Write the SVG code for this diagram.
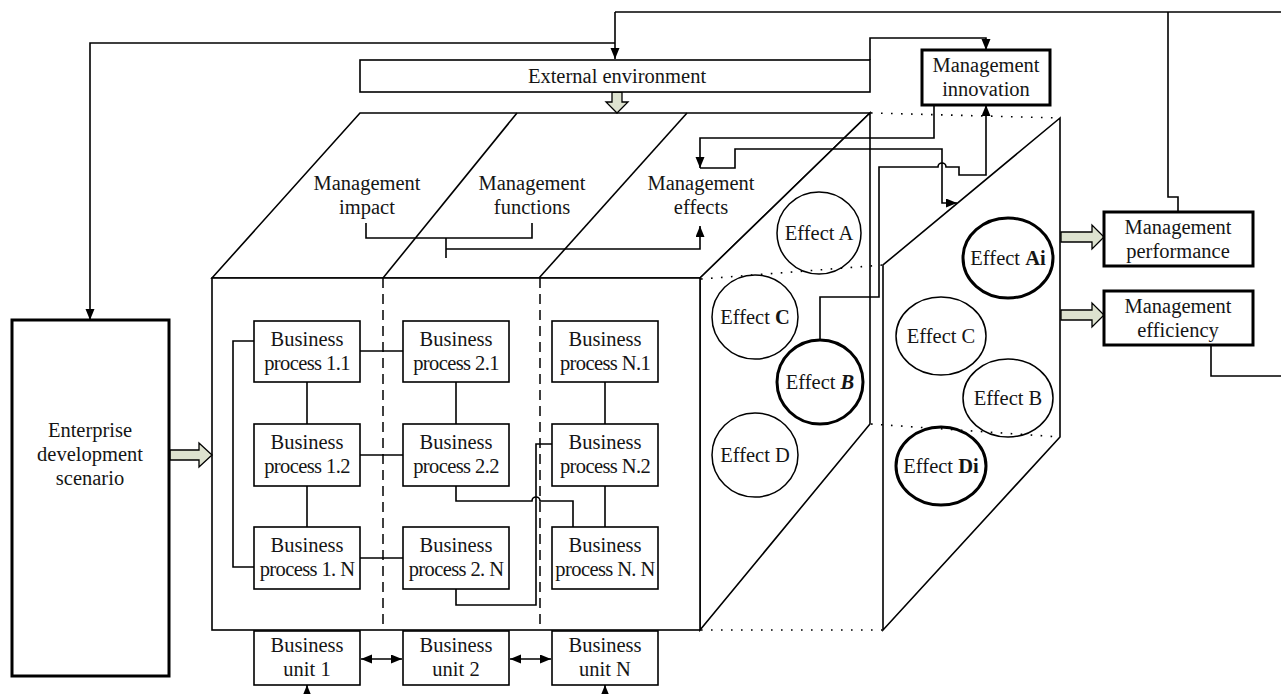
<svg xmlns="http://www.w3.org/2000/svg" width="1281" height="694" viewBox="0 0 1281 694" font-family="'Liberation Serif', Tinos, 'DejaVu Serif', serif">
  <style>
    .ln { fill: none; stroke: #000; stroke-width: 1.6; }
    .face { fill: #fff; stroke: #000; stroke-width: 1.6; stroke-linejoin: miter; }
    .box { fill: #fff; stroke: #000; stroke-width: 1.6; }
    .bold { fill: #fff; stroke: #000; stroke-width: 3; }
    .ring { fill: none; stroke: #000; stroke-width: 1.5; }
    .ring-b { fill: none; stroke: #000; stroke-width: 3; }
    .dash { fill: none; stroke: #000; stroke-width: 1.5; stroke-dasharray: 10 6; }
    .dot { fill: none; stroke: #000; stroke-width: 1.6; stroke-dasharray: 1.6 8.4; }
    .grn { fill: #dde2cf; stroke: #000; stroke-width: 1.3; }
    text { font-family: 'Liberation Serif', Tinos, 'DejaVu Serif', serif; font-size: 20.5px; fill: #151515; text-anchor: middle; }
    .tight { letter-spacing: -0.6px; }
    .b { font-weight: bold; }
    .bi { font-weight: bold; font-style: italic; }
  </style>
  <defs>
    <marker id="arr" markerUnits="userSpaceOnUse" markerWidth="12" markerHeight="10" refX="11" refY="4.5" orient="auto-start-reverse">
      <path d="M0,0 L11,4.5 L0,9 Z" fill="#000"/>
    </marker>
  </defs>

  <!-- cube: top face, side face, front face -->
  <g id="cube">
    <polygon class="face" points="212,278 360,113 870,113 700,278"/>
    <line class="ln" x1="383" y1="278" x2="517" y2="113"/>
    <line class="ln" x1="539" y1="278" x2="687" y2="113"/>
    <polygon class="face" points="700,278 870,113 870,424 700,630"/>
    <rect class="face" x="212" y="278" width="488" height="352"/>
    <line class="dash" x1="383" y1="278" x2="383" y2="630"/>
    <line class="dash" x1="540" y1="278" x2="540" y2="630"/>
  </g>

  <!-- effect slab to the right of the cube -->
  <g id="slab">
    <polygon class="face" points="1060,118 883,265 883,630 1060,437"/>
    <line class="dot" x1="871" y1="113" x2="1060" y2="118"/>
    <line class="dot" x1="701" y1="279" x2="883" y2="265"/>
    <line class="dot" x1="871" y1="424" x2="1060" y2="437"/>
    <line class="dot" x1="701" y1="630" x2="883" y2="630"/>
  </g>

  <!-- block arrows -->
  <g id="block-arrows">
    <polygon class="grn" points="612,92 622,92 622,102 628,102 617,113 606,102 612,102"/>
    <polygon class="grn" points="170,450 199,450 199,443 212,455 199,467 199,460 170,460"/>
    <polygon class="grn" points="1061,232 1092,232 1092,225 1104,237 1092,249 1092,242 1061,242"/>
    <polygon class="grn" points="1061,310 1092,310 1092,303 1104,315 1092,327 1092,320 1061,320"/>
  </g>

  <!-- connectors -->
  <g id="connectors">
    <!-- outer feedback loop -->
    <polyline class="ln" points="615,12 1281,12"/>
    <polyline class="ln" points="615,12 615,59" marker-end="url(#arr)"/>
    <polyline class="ln" points="615,43 90,43 90,320" marker-end="url(#arr)"/>
    <polyline class="ln" points="1168,12 1168,197 1178,197 1178,212"/>
    <polyline class="ln" points="1211,345 1211,376 1281,376"/>
    <!-- external environment to innovation -->
    <polyline class="ln" points="870,60 870,38 986,38 986,50" marker-end="url(#arr)"/>
    <!-- innovation to management effects -->
    <polyline class="ln" points="934,105 934,138 700,138 700,168" marker-end="url(#arr)"/>
    <polyline class="ln" points="700,168 735,168 735,149 942,149 942,203 957,203" marker-end="url(#arr)"/>
    <!-- effect B up to innovation -->
    <path class="ln" d="M820,340 V297 H879 V167 H938 a4,4 0 0 1 8,0 H959 V175 H986 V105" marker-end="url(#arr)"/>
    <!-- impact + functions to effects -->
    <polyline class="ln" points="366,223 366,238 532,238 532,223"/>
    <line class="ln" x1="446" y1="238" x2="446" y2="258"/>
    <polyline class="ln" points="446,249 700,249 700,226" marker-end="url(#arr)"/>
    <!-- business process links -->
    <polyline class="ln" points="254,341 233,341 233,567 254,567"/>
    <line class="ln" x1="307" y1="382" x2="307" y2="424"/>
    <line class="ln" x1="307" y1="486" x2="307" y2="527"/>
    <line class="ln" x1="456" y1="382" x2="456" y2="424"/>
    <line class="ln" x1="605" y1="382" x2="605" y2="424"/>
    <line class="ln" x1="605" y1="486" x2="605" y2="527"/>
    <line class="ln" x1="360" y1="351" x2="403" y2="351"/>
    <line class="ln" x1="360" y1="455" x2="403" y2="455"/>
    <line class="ln" x1="360" y1="558" x2="403" y2="558"/>
    <polyline class="ln" points="456,589 456,605 536,605 536,444 552,444"/>
    <path class="ln" d="M456,486 V501 H532 a4,4 0 0 1 8,0 H573 V527"/>
    <!-- business unit links -->
    <line class="ln" x1="361" y1="659" x2="402" y2="659" marker-start="url(#arr)" marker-end="url(#arr)"/>
    <line class="ln" x1="510" y1="659" x2="551" y2="659" marker-start="url(#arr)" marker-end="url(#arr)"/>
    <line class="ln" x1="307" y1="700" x2="307" y2="685" marker-end="url(#arr)"/>
    <line class="ln" x1="605" y1="700" x2="605" y2="685" marker-end="url(#arr)"/>
  </g>

  <g id="n-external">
    <rect class="box" x="360" y="60" width="510" height="32"/>
    <text x="617" y="83">External environment</text>
  </g>
  <g id="n-innovation">
    <rect class="bold" x="922" y="50" width="128" height="55"/>
    <text x="986" y="72">Management</text>
    <text x="986" y="96">innovation</text>
  </g>
  <g id="n-performance">
    <rect class="bold" x="1104" y="212" width="149" height="54"/>
    <text x="1178" y="234">Management</text>
    <text x="1178" y="258">performance</text>
  </g>
  <g id="n-efficiency">
    <rect class="bold" x="1104" y="291" width="149" height="54"/>
    <text x="1178" y="313">Management</text>
    <text x="1178" y="337">efficiency</text>
  </g>
  <g id="n-enterprise">
    <rect class="bold" x="12" y="320" width="157" height="356"/>
    <text x="90" y="437">Enterprise</text>
    <text x="90" y="461">development</text>
    <text x="90" y="485">scenario</text>
  </g>

  <g id="n-impact">
    <text x="367" y="190">Management</text>
    <text x="367" y="214">impact</text>
  </g>
  <g id="n-functions">
    <text x="532" y="190">Management</text>
    <text x="532" y="214">functions</text>
  </g>
  <g id="n-effects">
    <text x="701" y="190">Management</text>
    <text x="701" y="214">effects</text>
  </g>

  <!-- business processes -->
  <g id="n-bp11"><rect class="box" x="254" y="321" width="106" height="61"/><text x="307" y="346">Business</text><text class="tight" x="307" y="370">process 1.1</text></g>
  <g id="n-bp12"><rect class="box" x="254" y="424" width="106" height="62"/><text x="307" y="449">Business</text><text class="tight" x="307" y="473">process 1.2</text></g>
  <g id="n-bp1n"><rect class="box" x="254" y="527" width="106" height="62"/><text x="307" y="552">Business</text><text class="tight" x="307" y="576">process 1. N</text></g>
  <g id="n-bp21"><rect class="box" x="403" y="321" width="106" height="61"/><text x="456" y="346">Business</text><text class="tight" x="456" y="370">process 2.1</text></g>
  <g id="n-bp22"><rect class="box" x="403" y="424" width="106" height="62"/><text x="456" y="449">Business</text><text class="tight" x="456" y="473">process 2.2</text></g>
  <g id="n-bp2n"><rect class="box" x="403" y="527" width="106" height="62"/><text x="456" y="552">Business</text><text class="tight" x="456" y="576">process 2. N</text></g>
  <g id="n-bpn1"><rect class="box" x="552" y="321" width="106" height="61"/><text x="605" y="346">Business</text><text class="tight" x="605" y="370">process N.1</text></g>
  <g id="n-bpn2"><rect class="box" x="552" y="424" width="106" height="62"/><text x="605" y="449">Business</text><text class="tight" x="605" y="473">process N.2</text></g>
  <g id="n-bpnn"><rect class="box" x="552" y="527" width="106" height="62"/><text x="605" y="552">Business</text><text class="tight" x="605" y="576">process N. N</text></g>

  <!-- business units -->
  <g id="n-unit1"><rect class="box" x="254" y="631" width="106" height="54"/><text x="307" y="652">Business</text><text x="307" y="676">unit 1</text></g>
  <g id="n-unit2"><rect class="box" x="403" y="631" width="106" height="54"/><text x="456" y="652">Business</text><text x="456" y="676">unit 2</text></g>
  <g id="n-unitn"><rect class="box" x="552" y="631" width="106" height="54"/><text x="605" y="652">Business</text><text x="605" y="676">unit N</text></g>

  <!-- effects on the cube side -->
  <g id="n-effect-a"><ellipse class="ring" cx="819" cy="233" rx="42" ry="41"/><text x="819" y="240">Effect A</text></g>
  <g id="n-effect-c"><ellipse class="ring" cx="755" cy="317" rx="43" ry="42"/><text x="755" y="324">Effect <tspan class="b">C</tspan></text></g>
  <g id="n-effect-b"><ellipse class="ring-b" cx="820" cy="382" rx="43" ry="42"/><text x="820" y="389">Effect <tspan class="bi">B</tspan></text></g>
  <g id="n-effect-d"><ellipse class="ring" cx="755" cy="455" rx="43" ry="42"/><text x="755" y="462">Effect D</text></g>

  <!-- effects on the slab -->
  <g id="n-effect-ai"><ellipse class="ring-b" cx="1008" cy="258" rx="45" ry="40"/><text x="1008" y="265">Effect <tspan class="b">Ai</tspan></text></g>
  <g id="n-effect-c2"><ellipse class="ring" cx="941" cy="336" rx="45" ry="39"/><text x="941" y="343">Effect C</text></g>
  <g id="n-effect-b2"><ellipse class="ring" cx="1008" cy="398" rx="45" ry="39"/><text x="1008" y="405">Effect B</text></g>
  <g id="n-effect-di"><ellipse class="ring-b" cx="941" cy="466" rx="45" ry="39"/><text x="941" y="473">Effect <tspan class="b">Di</tspan></text></g>
</svg>
